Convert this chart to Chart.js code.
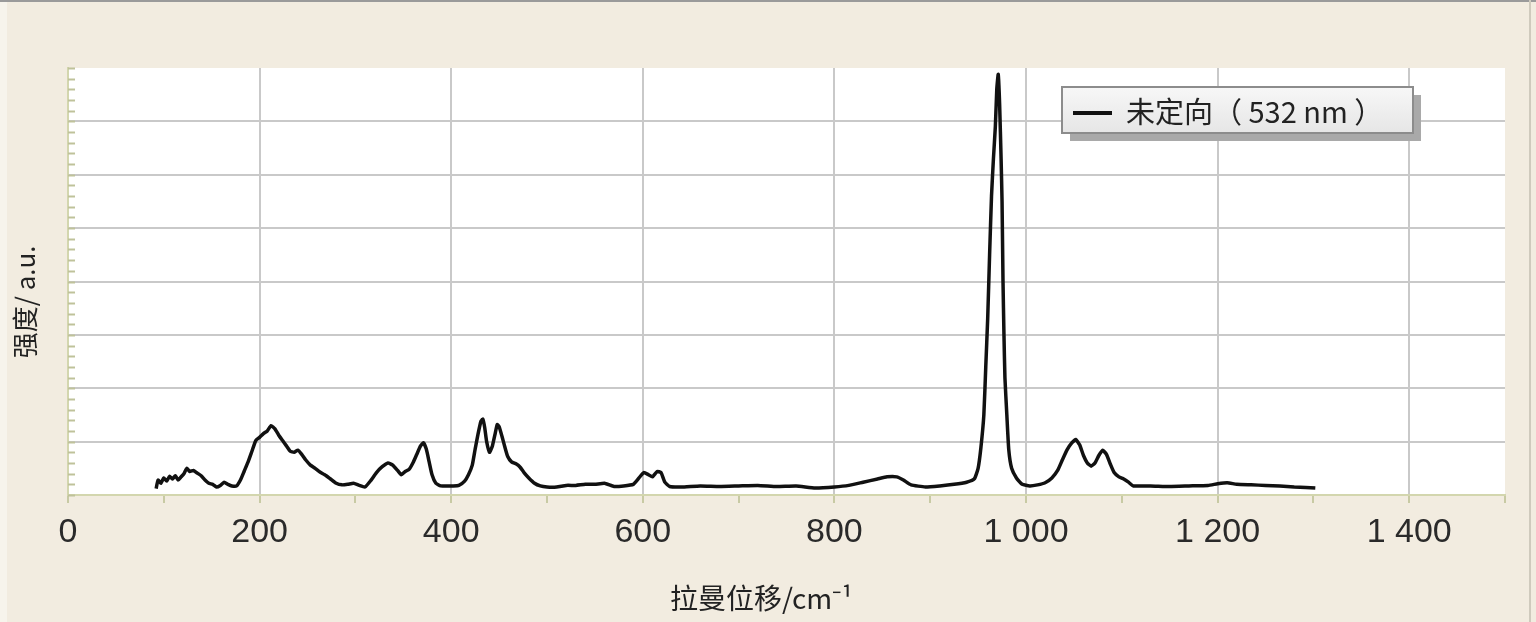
<!DOCTYPE html>
<html>
<head>
<meta charset="utf-8">
<script src="https://cdn.jsdelivr.net/npm/chart.js"></script>
<style>
  html, body { margin: 0; padding: 0; background: #f2ece0; }
  #wrap { width: 1536px; height: 622px; position: relative; }
</style>
</head>
<body>
<div id="wrap"><canvas id="myChart" width="1536" height="622"></canvas></div>
<script>
// Raman shift (cm-1) and intensity (a.u.)
const ramanShift = [
  92, 94, 97, 100, 103, 106, 109, 112, 115, 118, 121, 124, 127, 131, 135, 139, 143, 147, 151, 155,
  159, 163, 167, 171, 176, 180, 184, 188, 192, 196, 200, 204, 208, 212, 216, 220, 224, 228, 232, 236,
  240, 244, 248, 253, 258, 263, 268, 274, 280, 286, 292, 298, 304, 310, 316, 322, 328, 334, 339, 344,
  348, 352, 356, 360, 364, 368, 371, 374, 377, 380, 384, 389, 395, 402, 408, 414, 418, 422, 425, 428,
  431, 433, 435, 437, 440, 443, 446, 448, 450, 453, 456, 459, 463, 468, 472, 476, 481, 487, 493, 500,
  510, 520, 530, 540, 550, 560, 570, 580, 590, 596, 601, 606, 610, 615, 619, 623, 628, 640, 660, 680,
  700, 720, 740, 760, 780, 800, 815, 830, 845, 855, 865, 872, 880, 895, 910, 925, 938, 946, 950, 953,
  956, 958, 960, 962, 964, 966, 968, 969.5, 971, 972.5, 974, 975, 976, 977, 978, 980, 982, 985, 990, 996,
  1004, 1012, 1020, 1027, 1033, 1038, 1043, 1048, 1052, 1056, 1060, 1064, 1068, 1072, 1076, 1080, 1084, 1088, 1092, 1097,
  1102, 1107, 1112, 1130, 1150, 1170, 1190, 1200, 1210, 1220, 1235, 1250, 1265, 1280, 1292, 1302
];
const intensity = [
  0.12, 0.28, 0.22, 0.32, 0.26, 0.35, 0.30, 0.36, 0.28, 0.34, 0.40, 0.50, 0.44, 0.46, 0.41, 0.36, 0.28, 0.22, 0.20, 0.15,
  0.18, 0.24, 0.20, 0.17, 0.17, 0.28, 0.45, 0.62, 0.82, 1.02, 1.08, 1.15, 1.20, 1.30, 1.24, 1.12, 1.02, 0.92, 0.82, 0.80,
  0.84, 0.76, 0.66, 0.56, 0.50, 0.43, 0.38, 0.30, 0.22, 0.19, 0.20, 0.22, 0.18, 0.15, 0.27, 0.42, 0.53, 0.60, 0.56, 0.46,
  0.38, 0.44, 0.48, 0.60, 0.76, 0.92, 0.98, 0.86, 0.62, 0.38, 0.22, 0.17, 0.17, 0.17, 0.18, 0.26, 0.38, 0.56, 0.86, 1.14,
  1.38, 1.42, 1.26, 1.00, 0.80, 0.92, 1.16, 1.32, 1.28, 1.10, 0.90, 0.72, 0.62, 0.58, 0.52, 0.42, 0.32, 0.22, 0.17, 0.15,
  0.15, 0.18, 0.18, 0.20, 0.20, 0.22, 0.16, 0.17, 0.20, 0.32, 0.42, 0.38, 0.34, 0.44, 0.42, 0.24, 0.16, 0.15, 0.17, 0.16,
  0.17, 0.18, 0.16, 0.17, 0.13, 0.15, 0.18, 0.24, 0.30, 0.34, 0.34, 0.28, 0.19, 0.15, 0.17, 0.20, 0.24, 0.30, 0.50, 0.90,
  1.50, 2.40, 3.30, 4.50, 5.60, 6.30, 6.90, 7.60, 7.88, 7.30, 6.30, 5.50, 4.00, 3.00, 2.20, 1.50, 0.85, 0.50, 0.32, 0.20,
  0.17, 0.19, 0.23, 0.32, 0.46, 0.66, 0.85, 0.98, 1.04, 0.94, 0.74, 0.60, 0.54, 0.60, 0.74, 0.84, 0.76, 0.58, 0.42, 0.34,
  0.30, 0.24, 0.17, 0.17, 0.16, 0.17, 0.18, 0.21, 0.23, 0.20, 0.19, 0.18, 0.17, 0.15, 0.14, 0.13
];
const seriesName = '未定向（ 532 nm ）';
const xTickValues = [0, 200, 400, 600, 800, 1000, 1200, 1400];
const xTickLabels = ['0', '200', '400', '600', '800', '1 000', '1 200', '1 400'];
// trailing spaces nudge the centred titles to where the original sits
const xTitle = '拉曼位移/cm⁻¹' + '        ';
const yTitle = '强度/ a.u.' + '       ';

const points = ramanShift.map((x, i) => ({ x: x, y: intensity[i] }));

// page frame + white plot area
const backdrop = {
  id: 'backdrop',
  beforeDraw(chart) {
    const c = chart.ctx;
    const a = chart.chartArea;
    c.save();
    c.fillStyle = '#f2ece0';
    c.fillRect(0, 0, chart.width, chart.height);
    c.fillStyle = '#f7f4ec';
    c.fillRect(0, 0, 7, chart.height);
    c.fillStyle = '#9a9a9a';
    c.fillRect(0, 0, chart.width, 2);
    c.fillStyle = '#cfcabd';
    c.fillRect(1529, 0, 2, chart.height);
    c.fillStyle = '#ffffff';
    c.fillRect(a.left, a.top, a.right - a.left, a.bottom - a.top);
    c.restore();
  }
};

// small y ticks drawn inward, and the boxed legend
const extras = {
  id: 'extras',
  afterDraw(chart) {
    const c = chart.ctx;
    const ys = chart.scales.y;
    const a = chart.chartArea;
    c.save();
    c.strokeStyle = '#bfc29a';
    c.lineWidth = 2;
    ys.ticks.forEach(t => {
      const py = Math.round(ys.getPixelForValue(t.value)) + 0.5;
      c.beginPath();
      c.moveTo(a.left, py);
      c.lineTo(a.left + 7, py);
      c.stroke();
    });

    const bx = 1062, by = 87, bw = 351, bh = 46;
    c.fillStyle = '#a9a9a9';
    c.fillRect(bx + 8, by + 8, bw, bh);
    const g = c.createLinearGradient(0, by, 0, by + bh);
    g.addColorStop(0, '#f7f7f7');
    g.addColorStop(1, '#e6e6e6');
    c.fillStyle = g;
    c.fillRect(bx, by, bw, bh);
    c.strokeStyle = '#8c8c8c';
    c.lineWidth = 2;
    c.strokeRect(bx, by, bw, bh);
    c.strokeStyle = '#111';
    c.lineWidth = 4;
    c.beginPath();
    c.moveTo(bx + 11, by + 26);
    c.lineTo(bx + 50, by + 26);
    c.stroke();
    c.fillStyle = '#222';
    c.font = '29px "Noto Sans CJK SC"';
    c.textBaseline = 'middle';
    c.fillText(chart.data.datasets[0].label, bx + 64, by + 25);
    c.restore();
  }
};

const ctx = document.getElementById('myChart');

new Chart(ctx, {
  type: 'line',
  data: {
    datasets: [{
      label: seriesName,
      data: points,
      borderColor: '#111111',
      borderWidth: 3.5,
      pointRadius: 0,
      tension: 0.15,
      fill: false
    }]
  },
  options: {
    responsive: false,
    animation: false,
    layout: { padding: { top: 68, right: 31, left: 0, bottom: 0 } },
    plugins: {
      legend: { display: false },
      tooltip: { enabled: false }
    },
    scales: {
      x: {
        type: 'linear',
        min: 0,
        max: 1500,
        afterFit: s => { s.height = 127; },
        ticks: {
          stepSize: 100,
          autoSkip: false,
          maxRotation: 0,
          padding: 9,
          color: '#2a2a2a',
          font: { family: '"Liberation Sans", Arial', size: 34 },
          callback: v => {
            const i = xTickValues.indexOf(v);
            return i >= 0 ? xTickLabels[i] : '';
          }
        },
        grid: {
          color: c => (c.tick && c.tick.value % 200 === 0 && c.tick.value > 0 && c.tick.value < 1500) ? '#c9c9c9' : 'rgba(0,0,0,0)',
          lineWidth: 2,
          tickLength: 8,
          tickColor: '#c8caa4',
          tickWidth: 2
        },
        border: { color: '#d3d6ae', width: 2 },
        title: {
          display: true,
          text: xTitle,
          color: '#222',
          font: { family: '"Noto Sans CJK SC"', size: 28 },
          padding: { top: 0, bottom: 7 }
        }
      },
      y: {
        min: 0,
        max: 8,
        afterFit: s => { s.width = 68; },
        ticks: { stepSize: 0.2, display: false },
        grid: {
          color: c => (c.tick && Number.isInteger(Math.round(c.tick.value * 1000) / 1000) && c.tick.value > 0 && c.tick.value < 8) ? '#c9c9c9' : 'rgba(0,0,0,0)',
          lineWidth: 2,
          drawTicks: false
        },
        border: { color: '#d3d6ae', width: 2 },
        title: {
          display: true,
          text: yTitle,
          color: '#222',
          font: { family: '"Noto Sans CJK SC"', size: 26 },
          padding: { top: 10, bottom: 0 }
        }
      }
    }
  },
  plugins: [backdrop, extras]
});
</script>
</body>
</html>
